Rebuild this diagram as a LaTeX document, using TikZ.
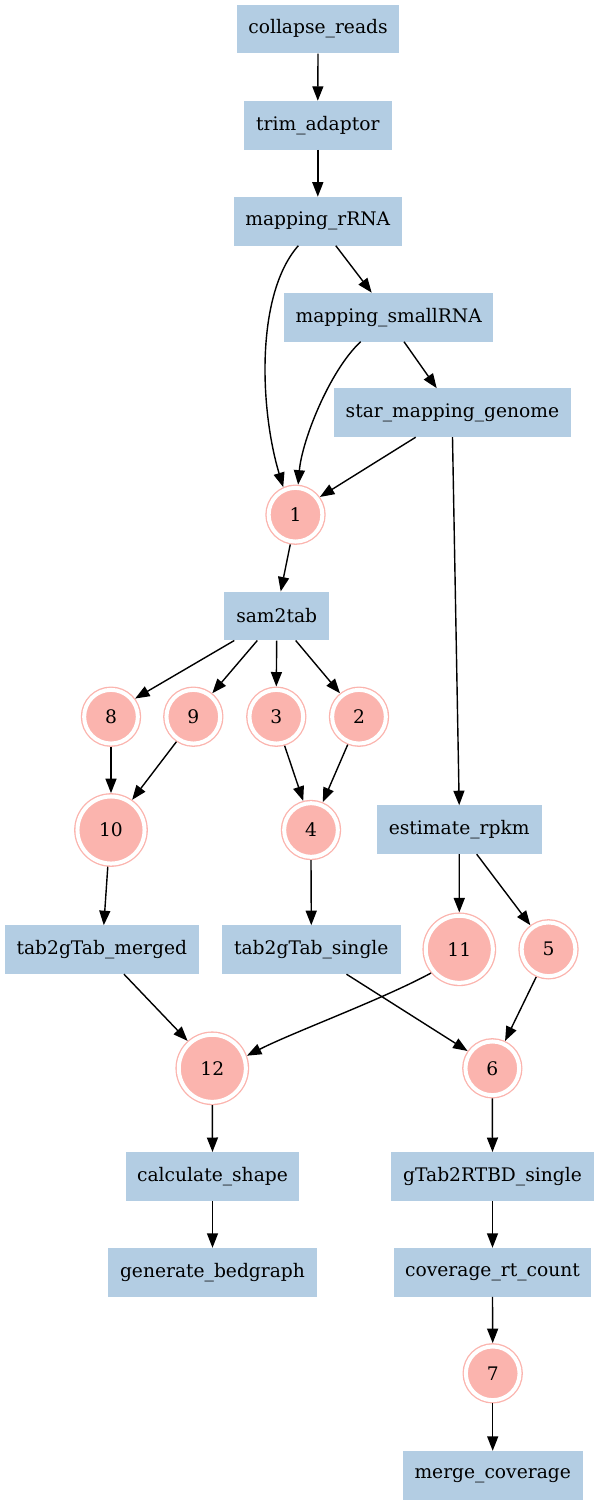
\documentclass[tikz,border=0pt]{standalone}
\usepackage{fontspec}
\setmainfont{DejaVu Serif}
\usetikzlibrary{arrows.meta}
\definecolor{boxc}{HTML}{B3CDE3}
\definecolor{pinkc}{HTML}{FBB4AE}
\begin{document}
\begin{tikzpicture}[x=1pt,y=-1pt,
  every node/.style={font=\fontsize{18.67}{22}\selectfont},
  task/.style={rectangle, fill=boxc, inner sep=0pt, minimum height=48.6pt},
  job/.style={circle, fill=pinkc, draw=pinkc, line width=1.33pt, double=white,
              double distance=4pt, inner sep=0pt, minimum size=53.7pt, outer sep=3.33pt},
  bigjob/.style={job, minimum size=67.07pt},
  edge/.style={line width=1.4pt, -{Triangle[length=14.5pt,width=11pt]}}
]
\useasboundingbox (0,0) rectangle (599,1505);
\node[task, minimum width=162.6pt] (cr)  at (318,29)     {collapse\_reads};
\node[task, minimum width=147.7pt] (ta)  at (317.8,125.3) {trim\_adaptor};
\node[task, minimum width=167.7pt] (rr)  at (317.8,221.2) {mapping\_rRNA};
\node[task, minimum width=209.3pt] (sm)  at (388.7,317.2) {mapping\_smallRNA};
\node[task, minimum width=237pt]   (st)  at (452.5,412.7) {star\_mapping\_genome};
\node[job]                          (n1)  at (295.5,514.7) {1};
\node[task, minimum width=105.3pt] (s2t) at (276.7,616)   {sam2tab};
\node[job]                          (n8)  at (111,716.7)   {8};
\node[job]                          (n9)  at (193.3,716.7) {9};
\node[job]                          (n3)  at (276.3,716.7) {3};
\node[job]                          (n2)  at (359,716.7)   {2};
\node[bigjob]                       (n10) at (111,830)     {10};
\node[job]                          (n4)  at (311,830)     {4};
\node[task, minimum width=165pt]   (est) at (459.2,829.7) {estimate\_rpkm};
\node[task, minimum width=194.3pt] (tm)  at (101.8,949.7) {tab2gTab\_merged};
\node[task, minimum width=178.4pt] (tsg) at (311.3,949.7) {tab2gTab\_single};
\node[bigjob]                       (n11) at (459.3,949.3) {11};
\node[job]                          (n5)  at (548.5,949.3) {5};
\node[bigjob]                       (n12) at (212.3,1068.3) {12};
\node[job]                          (n6)  at (492.3,1068.3) {6};
\node[task, minimum width=173pt]   (cs)  at (212.5,1176.5) {calculate\_shape};
\node[task, minimum width=202.4pt] (gt)  at (492.5,1176.5) {gTab2RTBD\_single};
\node[task, minimum width=208.4pt] (gb)  at (212.5,1272.3) {generate\_bedgraph};
\node[task, minimum width=197pt]   (cov) at (492.5,1272.3) {coverage\_rt\_count};
\node[job]                          (n7)  at (492.7,1373.3) {7};
\node[task, minimum width=180pt]   (mc)  at (492.7,1475.3) {merge\_coverage};

\draw[edge] (cr.south) -- (ta.north);
\draw[edge] (ta.south) -- (rr.north);
\draw[edge] ([xshift=18pt]rr.south) -- ([xshift=-17pt]sm.north);
\draw[edge] ([xshift=-19.5pt]rr.south) .. controls (255,295) and (260,410) .. (n1.114);
\draw[edge] ([xshift=15.3pt]sm.south) -- ([xshift=-15.8pt]st.north);
\draw[edge] ([xshift=-28pt]sm.south) .. controls (330,370) and (302,440) .. (n1.85);
\draw[edge] ([xshift=-36.8pt]st.south) -- (n1.36);
\draw[edge] (st.south) -- (est.north);
\draw[edge] (n1.260) -- ([xshift=4pt]s2t.north);
\draw[edge] ([xshift=-42.4pt]s2t.south) -- (n8.37);
\draw[edge] ([xshift=-19.4pt]s2t.south) -- (n9.51);
\draw[edge] (s2t.south) -- (n3.north);
\draw[edge] ([xshift=19pt]s2t.south) -- (n2.129);
\draw[edge] (n8.south) -- (n10.north);
\draw[edge] (n9.236) -- (n10.55);
\draw[edge] (n3.286) -- (n4.105);
\draw[edge] (n2.248) -- (n4.67);
\draw[edge] (n10.265) -- ([xshift=2pt]tm.north);
\draw[edge] (n4.south) -- (tsg.north);
\draw[edge] (est.south) -- (n11.north);
\draw[edge] ([xshift=17.5pt]est.south) -- (n5.127);
\draw[edge] ([xshift=22.2pt]tm.south) -- (n12.132);
\draw[edge] ([xshift=35.2pt]tsg.south) -- (n6.145);
\draw[edge] (n11.220) .. controls (381.7,999.7) and (294.3,1031.7) .. (n12.20);
\draw[edge] (n5.246) -- (n6.65);
\draw[edge] (n12.south) -- (cs.north);
\draw[edge] (n6.south) -- (gt.north);
\draw[edge] (cs.south) -- (gb.north);
\draw[edge] (gt.south) -- (cov.north);
\draw[edge] (cov.south) -- (n7.north);
\draw[edge] (n7.south) -- (mc.north);
\end{tikzpicture}
\end{document}
